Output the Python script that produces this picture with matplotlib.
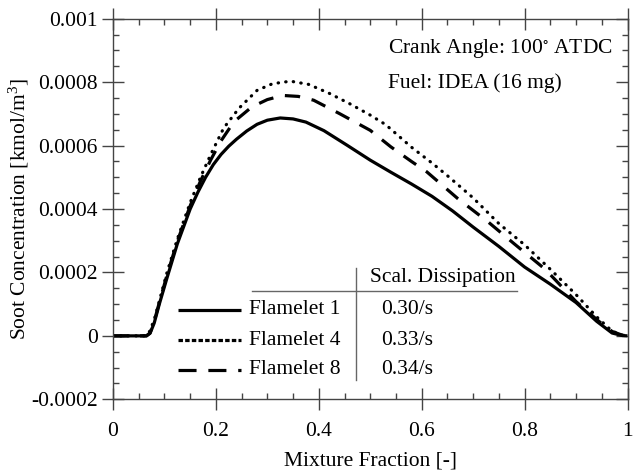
import matplotlib
matplotlib.use("Agg")
import matplotlib.pyplot as plt
from matplotlib.ticker import MultipleLocator
from matplotlib.lines import Line2D

plt.rcParams['font.family'] = ['Liberation Serif', 'DejaVu Serif']
plt.rcParams['mathtext.fontset'] = 'custom'
plt.rcParams['mathtext.rm'] = 'Liberation Serif'
plt.rcParams['mathtext.default'] = 'regular'
plt.rcParams['lines.scale_dashes'] = False
plt.rcParams['font.size'] = 15.5

# soot concentration vs mixture fraction
z1 = [0, 0.065, 0.072, 0.08, 0.09, 0.105, 0.125, 0.15, 0.165, 0.18, 0.195, 0.21,
      0.225, 0.24, 0.26, 0.28, 0.30, 0.325, 0.35, 0.375, 0.41, 0.455, 0.50, 0.54,
      0.58, 0.62, 0.66, 0.70, 0.75, 0.80, 0.85, 0.90, 0.94, 0.97, 0.99, 1.0]
flamelet1 = [0, 0, 0.000008, 0.00004, 0.0001, 0.000183, 0.00029, 0.0004, 0.000453,
             0.0005, 0.00054, 0.000572, 0.000598, 0.00062, 0.000646, 0.000667, 0.00068,
             0.000687, 0.000684, 0.000674, 0.000647, 0.000601, 0.000554, 0.000516,
             0.000479, 0.00044, 0.000394, 0.000343, 0.000282, 0.000217, 0.000163,
             0.000105, 0.000046, 0.000009, 0.000001, 0]

z4 = [0, 0.063, 0.07, 0.08, 0.09, 0.105, 0.125, 0.15, 0.17, 0.19, 0.215, 0.245,
      0.28, 0.31, 0.345, 0.38, 0.42, 0.46, 0.50, 0.53, 0.58, 0.62, 0.65, 0.70,
      0.75, 0.80, 0.85, 0.90, 0.94, 0.97, 0.99, 1.0]
flamelet4 = [0, 0, 0.00001, 0.00005, 0.00011, 0.0002, 0.000305, 0.00042, 0.0005,
             0.000572, 0.000655, 0.000718, 0.000774, 0.000795, 0.000803, 0.000793,
             0.000765, 0.000732, 0.000696, 0.000666, 0.000595, 0.000545, 0.000505,
             0.000435, 0.000354, 0.000287, 0.00021, 0.00013, 0.00006, 0.000015,
             0.000002, 0]

z8 = [0, 0.065, 0.072, 0.08, 0.09, 0.105, 0.125, 0.15, 0.17, 0.19, 0.21, 0.235,
      0.27, 0.30, 0.33, 0.36, 0.39, 0.44, 0.50, 0.54, 0.58, 0.61, 0.67, 0.73,
      0.78, 0.84, 0.90, 0.945, 0.97, 0.99, 1.0]
flamelet8 = [0, 0, 0.000009, 0.000045, 0.000105, 0.000192, 0.000298, 0.00041,
             0.000488, 0.000555, 0.000615, 0.000675, 0.000722, 0.000745, 0.000758,
             0.000755, 0.000743, 0.000701, 0.000648, 0.000596, 0.00055, 0.000517,
             0.000433, 0.000358, 0.00029, 0.00021, 0.000108, 0.000045, 0.000014,
             0.000002, 0]

names = ['Flamelet 1', 'Flamelet 4', 'Flamelet 8']
dissipation = ['0.30/s', '0.33/s', '0.34/s']

xticks = [0, 0.2, 0.4, 0.6, 0.8, 1.0]
xticklabels = ['0', '0.2', '0.4', '0.6', '0.8', '1']
yticks = [-0.0002, 0, 0.0002, 0.0004, 0.0006, 0.0008, 0.001]
yticklabels = ['-0.0002', '0', '0.0002', '0.0004', '0.0006', '0.0008', '0.001']

fig = plt.figure(figsize=(6.34, 4.72), dpi=100)
ax = fig.add_axes([113 / 634, 1 - 399.3 / 472, 514.5 / 634, 380.6 / 472])

lw = 2.3
ax.plot(z1, flamelet1, color='black', lw=lw, solid_capstyle='butt', solid_joinstyle='round')
ax.plot(z4, flamelet4, color='black', lw=lw, dashes=(0.3, 5.2), dash_capstyle='round')
ax.plot(z8, flamelet8, color='black', lw=lw, dashes=(11, 8.5), dash_capstyle='butt')

ax.set_xlim(0, 1)
ax.set_ylim(-0.0002, 0.001)
ax.set_xticks(xticks)
ax.set_xticklabels(xticklabels)
ax.set_yticks(yticks)
ax.set_yticklabels(yticklabels)
ax.xaxis.set_minor_locator(MultipleLocator(0.05))
ax.yaxis.set_minor_locator(MultipleLocator(0.00005))

spine_col = '#444444'
for s in ax.spines.values():
    s.set_color(spine_col)
    s.set_linewidth(1.0)
ax.tick_params(which='major', direction='inout', length=16, width=1, color=spine_col,
               top=True, right=False, labelsize=15.5, pad=3)
ax.tick_params(which='minor', direction='in', length=4.5, width=1, color=spine_col,
               top=True, right=False)
ax.tick_params(axis='x', which='major', pad=8)

# right side ticks only point inward
axr = ax.secondary_yaxis('right')
axr.set_yticks(yticks)
axr.set_yticklabels([])
axr.yaxis.set_minor_locator(MultipleLocator(0.00005))
axr.spines['right'].set_color(spine_col)
axr.tick_params(which='major', direction='in', length=8.5, width=1, color=spine_col)
axr.tick_params(which='minor', direction='in', length=4.5, width=1, color=spine_col)

ax.set_xlabel('Mixture Fraction [-]', fontsize=15.5, labelpad=8)
ax.set_ylabel('Soot Concentration [kmol/m$^3$]', fontsize=15.5, labelpad=0)

ax.text(0.5345, 0.9206, 'Crank Angle: 100$^{\\circ}$ ATDC', transform=ax.transAxes,
        ha='left', va='center', fontsize=15.5)
ax.text(0.5345, 0.8311, 'Fuel: IDEA (16 mg)', transform=ax.transAxes,
        ha='left', va='center', fontsize=15.5)

# legend drawn as a small table
grey = '#666666'
ax.add_line(Line2D([0.2696, 0.7846], [0.2853, 0.2853], transform=ax.transAxes,
                   color=grey, lw=1.0))
ax.add_line(Line2D([0.4717, 0.4717], [0.0507, 0.3458], transform=ax.transAxes,
                   color=grey, lw=1.0))
ax.text(0.4995, 0.3213, 'Scal. Dissipation', transform=ax.transAxes,
        ha='left', va='center', fontsize=15.5)
row_y = [0.2349, 0.1558, 0.0770]
styles = [dict(), dict(dashes=(3.2, 1.6)), dict(dashes=(13, 8.5))]
for name, val, yy, st in zip(names, dissipation, row_y, styles):
    ax.add_line(Line2D([0.1264, 0.2492], [yy, yy], transform=ax.transAxes,
                       color='black', lw=lw, solid_capstyle='butt',
                       dash_capstyle='butt', **st))
    ax.text(0.2643, yy, name, transform=ax.transAxes, ha='left', va='center',
            fontsize=15.5)
    ax.text(0.5203, yy, val, transform=ax.transAxes, ha='left', va='center',
            fontsize=15.5)

fig.savefig('out.png', dpi=100)
